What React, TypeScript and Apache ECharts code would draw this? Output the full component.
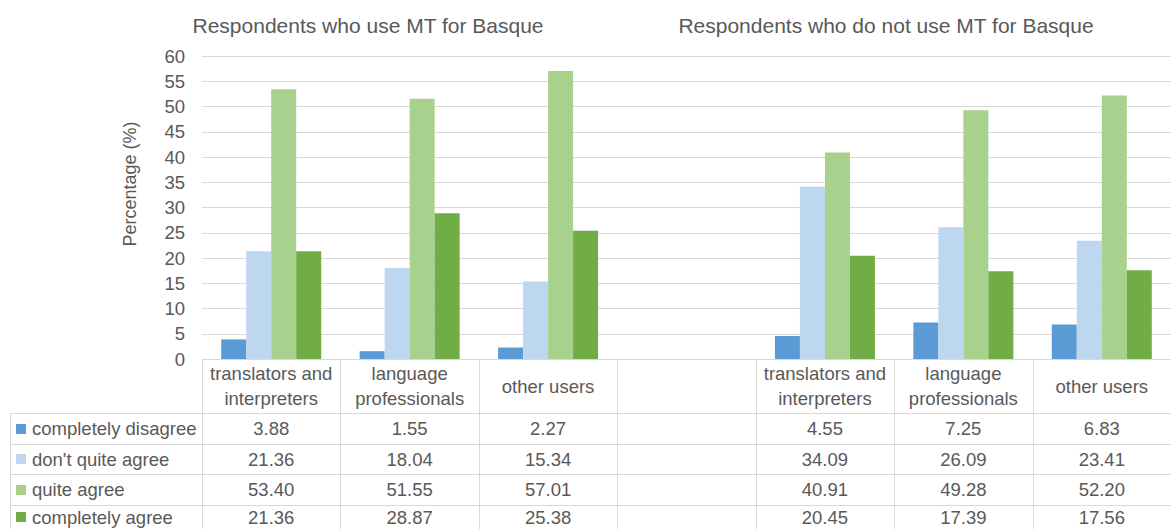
import React, { useEffect, useRef } from "react";
import * as echarts from "echarts";

const categories = [
  "translators and\ninterpreters",
  "language\nprofessionals",
  "other users",
  "",
  "translators and\ninterpreters",
  "language\nprofessionals",
  "other users",
];
const seriesNames = ["completely disagree", "don't quite agree", "quite agree", "completely agree"];
const completelyDisagree = [3.88, 1.55, 2.27, null, 4.55, 7.25, 6.83];
const dontQuiteAgree = [21.36, 18.04, 15.34, null, 34.09, 26.09, 23.41];
const quiteAgree = [53.4, 51.55, 57.01, null, 40.91, 49.28, 52.2];
const completelyAgree = [21.36, 28.87, 25.38, null, 20.45, 17.39, 17.56];
const titles = ["Respondents who use MT for Basque", "Respondents who do not use MT for Basque"];
const yAxisTitle = "Percentage (%)";

const colors = ["#5B9BD5", "#BDD7EE", "#A9D18E", "#70AD47"];
const FONT = '"Liberation Sans", Arial, sans-serif';
const TEXT = "#595959";
const LINE = "#D9D9D9";

export default function App() {
  const ref = useRef<HTMLDivElement>(null);
  useEffect(() => {
    if (!ref.current) return;
    const chart = echarts.init(ref.current, null, { renderer: "svg" });
    const seriesData = [completelyDisagree, dontQuiteAgree, quiteAgree, completelyAgree];
    chart.setOption({
      animation: false,
      textStyle: { fontFamily: FONT },
      grid: { left: 202, top: 56, width: 972, height: 303 },
      xAxis: {
        type: "category",
        data: categories,
        axisLine: { lineStyle: { color: LINE } },
        axisTick: { show: false },
        axisLabel: {
          interval: 0,
          color: TEXT,
          fontSize: 18.5,
          fontFamily: FONT,
          lineHeight: 25,
          verticalAlign: "middle",
          margin: 27,
        },
      },
      yAxis: {
        type: "value",
        min: 0,
        max: 60,
        interval: 5,
        axisLine: { show: false },
        axisTick: { show: false },
        axisLabel: { color: TEXT, fontSize: 18.5, fontFamily: FONT, margin: 17 },
        splitLine: { lineStyle: { color: LINE, width: 1 } },
      },
      series: seriesData.map((d, i) => ({
        type: "bar",
        name: seriesNames[i],
        data: d,
        barWidth: 25,
        barGap: "0%",
        itemStyle: { color: colors[i] },
      })),
    });

    const c0 = chart.convertToPixel({ xAxisIndex: 0 }, 0) as number;
    const c1 = chart.convertToPixel({ xAxisIndex: 0 }, 1) as number;
    const band = c1 - c0;
    const zeroY = chart.convertToPixel({ yAxisIndex: 0 }, 0) as number;
    const rowLines = [413, 444, 474, 505];
    const rowCenters = [428.5, 459, 489.5, 517];
    const g: any[] = [];
    const hline = (x1: number, x2: number, y: number) =>
      g.push({ type: "line", silent: true, shape: { x1, y1: Math.round(y) + 0.5, x2, y2: Math.round(y) + 0.5 }, style: { stroke: LINE, lineWidth: 1 } });
    const vline = (x: number, y1: number, y2: number) =>
      g.push({ type: "line", silent: true, shape: { x1: Math.round(x) + 0.5, y1, x2: Math.round(x) + 0.5, y2 }, style: { stroke: LINE, lineWidth: 1 } });

    for (let i = 0; i <= categories.length; i++) {
      vline(c0 - band / 2 + i * band, zeroY, 540);
    }
    vline(10, rowLines[0], 540);
    for (let r = 0; r < 4; r++) hline(10, 1175, rowLines[r]);

    seriesData.forEach((d, s) => {
      const cy = rowCenters[s];
      g.push({ type: "rect", silent: true, shape: { x: 16, y: Math.round(cy - 5), width: 10, height: 10 }, style: { fill: colors[s] } });
      g.push({
        type: "text",
        silent: true,
        x: 32,
        y: cy,
        style: { text: seriesNames[s], fill: TEXT, fontSize: 18.5, fontFamily: FONT, align: "left", verticalAlign: "middle" },
      });
      d.forEach((v, i) => {
        if (v == null) return;
        const cx = chart.convertToPixel({ xAxisIndex: 0 }, i) as number;
        g.push({
          type: "text",
          silent: true,
          x: cx,
          y: cy,
          style: { text: v.toFixed(2), fill: TEXT, fontSize: 18.5, fontFamily: FONT, align: "center", verticalAlign: "middle" },
        });
      });
    });

    const titleX = [368, 886];
    titles.forEach((t, i) =>
      g.push({
        type: "text",
        silent: true,
        x: titleX[i],
        y: 25,
        style: { text: t, fill: TEXT, fontSize: 21, fontFamily: FONT, align: "center", verticalAlign: "middle" },
      })
    );
    g.push({
      type: "text",
      silent: true,
      x: 130,
      y: 184,
      rotation: Math.PI / 2,
      style: { text: yAxisTitle, fill: TEXT, fontSize: 18, fontFamily: FONT, align: "center", verticalAlign: "middle" },
    });

    chart.setOption({ graphic: g });
    return () => chart.dispose();
  }, []);

  return (
    <div
      ref={ref}
      style={{ position: "fixed", left: 0, top: 0, width: 1171, height: 529, background: "#fff" }}
    />
  );
}
